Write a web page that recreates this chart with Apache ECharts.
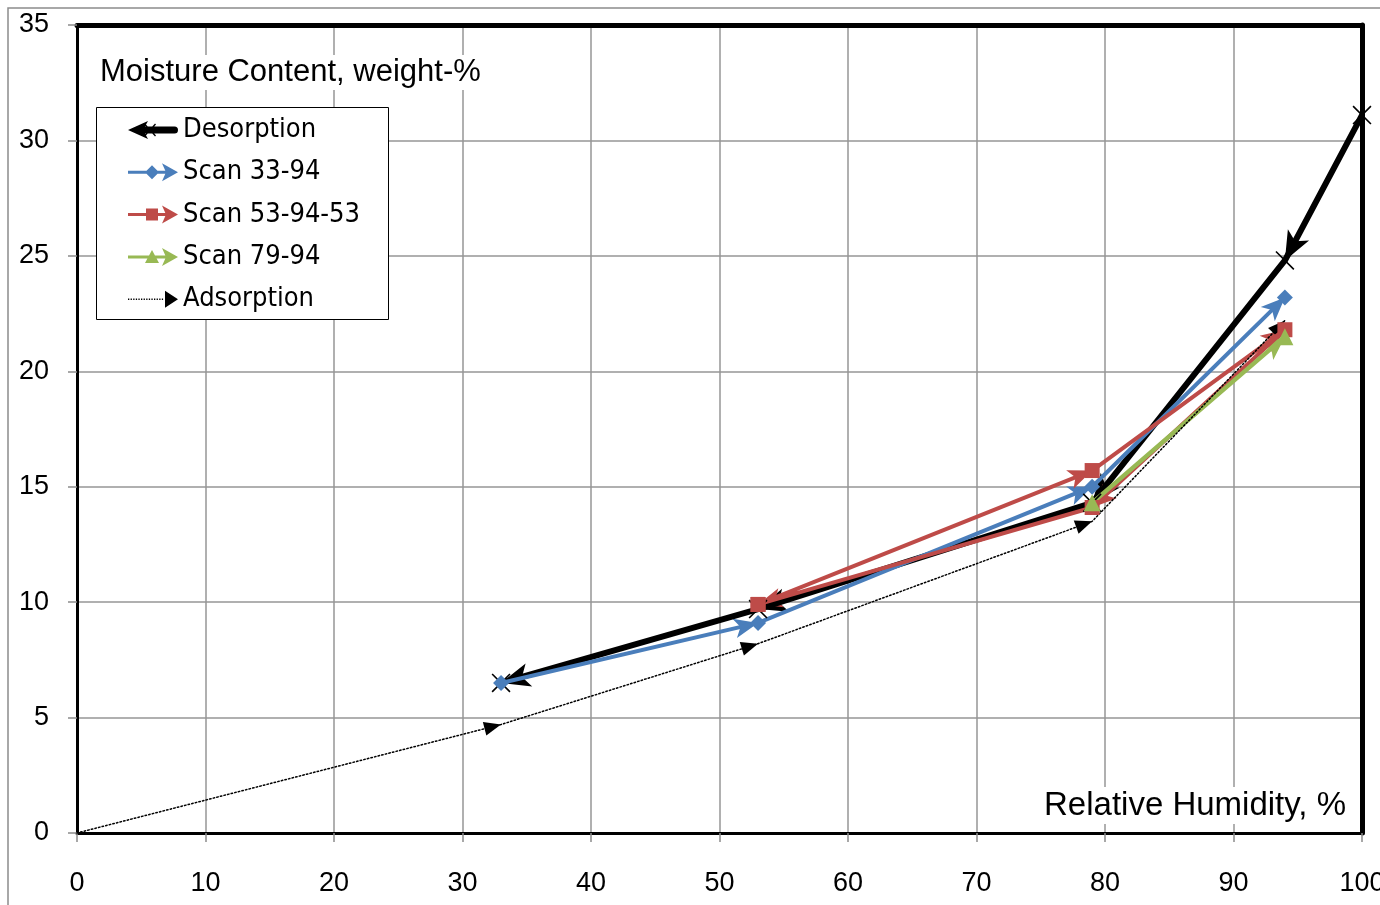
<!DOCTYPE html>
<html>
<head>
<meta charset="utf-8">
<script src="https://cdn.jsdelivr.net/npm/echarts@6/dist/echarts.min.js"></script>
<style>
  html, body { margin: 0; padding: 0; background: #fff; }
  #chart { width: 1380px; height: 905px; }
</style>
</head>
<body>
<div id="chart"></div>
<script>
// Sorption curves: relative humidity (%) against moisture content (weight-%)
const desorptionRH = [100, 94, 79, 53, 33];
const desorptionMC = [31.1, 24.8, 14.3, 9.7, 6.5];

const scan3394RH = [33, 53, 79, 94];
const scan3394MC = [6.5, 9.1, 15.0, 23.2];

const scan539453RH = [53, 79, 94, 79, 53];
const scan539453MC = [9.9, 15.7, 21.8, 14.1, 9.9];

const scan7994RH = [79, 94];
const scan7994MC = [14.3, 21.5];

const adsorptionRH = [0, 33, 53, 79, 94];
const adsorptionMC = [0, 4.7, 8.2, 13.5, 22.2];

const seriesNames = ['Desorption', 'Scan 33-94', 'Scan 53-94-53', 'Scan 79-94', 'Adsorption'];

const xRange = { min: 0, max: 100, interval: 10 };
const yRange = { min: 0, max: 35, interval: 5 };

const axisTitleX = 'Relative Humidity, %';
const axisTitleY = 'Moisture Content, weight-%';

const FONT = "'Liberation Sans', Arial, sans-serif";
const NARROW = "'Liberation Sans Narrow', 'Arial Narrow', 'DejaVu Sans Condensed', sans-serif";

// Arrowheads: the empty move at the top keeps the symbol anchor on the tip
const ARROW_HEAD = 'path://M10,0L10,0M10,20L20,40L10,35L0,40Z';
const TRI_HEAD = 'path://M10,0L10,0M10,20L20,40L0,40Z';
const X_MARK = 'path://M0,1.2L1.2,0L20,18.8L18.8,20Z M18.8,0L20,1.2L1.2,20L0,18.8Z';

// Legend icons (50 x 22 box): line, marker and arrowhead
const LINE_BAR = 'M0,9.5L40,9.5L40,12.5L0,12.5Z';
const RIGHT_ARROW = 'M34,2L50,11L34,20L38,11Z';
function dottedBar() {
  let p = '';
  for (let x = 0; x < 36; x += 2.6) {
    p += 'M' + x + ',10.3L' + (x + 1.3) + ',10.3L' + (x + 1.3) + ',11.7L' + x + ',11.7Z';
  }
  return p;
}
const legendIcons = [
  'path://M0,11L20,2L15,11L20,20Z M14,7.5L46.5,7.5A3.5,3.5 0 0 1 46.5,14.5L14,14.5Z' +
    'M16,5.6L17,4.6L28,16.4L27,17.4Z M27,4.6L28,5.6L17,17.4L16,16.4Z',
  'path://' + LINE_BAR + 'M24,4L31,11L24,18L17,11Z' + RIGHT_ARROW,
  'path://' + LINE_BAR + 'M18,5L30,5L30,17L18,17Z' + RIGHT_ARROW,
  'path://' + LINE_BAR + 'M24,4L31,17L17,17Z' + RIGHT_ARROW,
  'path://' + dottedBar() + 'M37,2.5L50,11L37,19.5Z'
];

const curves = [
  { name: seriesNames[0], rh: desorptionRH, mc: desorptionMC, color: '#000000', width: 6,
    symbol: X_MARK, symbolSize: 19, head: ARROW_HEAD, headSize: [24, 58] },
  { name: seriesNames[1], rh: scan3394RH, mc: scan3394MC, color: '#4a7ebb', width: 4,
    symbol: 'diamond', symbolSize: 16, head: ARROW_HEAD, headSize: [20, 48] },
  { name: seriesNames[2], rh: scan539453RH, mc: scan539453MC, color: '#be4b48', width: 4,
    symbol: 'rect', symbolSize: 15, head: ARROW_HEAD, headSize: [20, 48] },
  { name: seriesNames[3], rh: scan7994RH, mc: scan7994MC, color: '#98b954', width: 4.5,
    symbol: 'triangle', symbolSize: 17, head: ARROW_HEAD, headSize: [20, 48] },
  { name: seriesNames[4], rh: adsorptionRH, mc: adsorptionMC, color: '#000000', width: 1.5,
    dash: [1.5, 2.2], symbol: 'none', symbolSize: 0, head: TRI_HEAD, headSize: [14, 34] }
];

function points(rh, mc) { return rh.map((x, i) => [x, mc[i]]); }
function segments(rh, mc) {
  const s = [];
  for (let i = 1; i < rh.length; i++) {
    s.push({ coords: [[rh[i - 1], mc[i - 1]], [rh[i], mc[i]]] });
  }
  return s;
}

const series = [];
curves.forEach(c => {
  series.push({
    type: 'line', name: c.name, data: points(c.rh, c.mc),
    symbol: c.symbol, symbolSize: c.symbolSize, showSymbol: c.symbol !== 'none',
    lineStyle: { color: c.color, width: c.width, type: c.dash || 'solid', join: 'round', cap: 'round' },
    itemStyle: { color: c.color, borderWidth: 0 },
    emphasis: { disabled: true }, silent: true, clip: false, animation: false
  });
  // arrowheads at the end of every segment
  series.push({
    type: 'lines', name: c.name, coordinateSystem: 'cartesian2d',
    data: segments(c.rh, c.mc),
    symbol: ['none', c.head], symbolSize: [0, c.headSize],
    lineStyle: { color: c.color, width: 0, opacity: 1, curveness: 0 },
    silent: true, animation: false
  });
});

const chart = echarts.init(document.getElementById('chart'), null, { renderer: 'canvas' });

chart.setOption({
  animation: false,
  backgroundColor: '#ffffff',
  grid: { left: 77, right: 18, top: 25, bottom: 72, containLabel: false, outerBoundsMode: 'none' },
  title: [
    { text: axisTitleY, left: 96, top: 55, padding: [2, 4], backgroundColor: '#ffffff',
      textStyle: { fontFamily: FONT, fontSize: 31, fontWeight: 'normal', color: '#000' } },
    { text: axisTitleX, right: 30, top: 787, padding: [2, 4], backgroundColor: '#ffffff',
      textStyle: { fontFamily: FONT, fontSize: 33, fontWeight: 'normal', color: '#000' } }
  ],
  legend: {
    orient: 'vertical', left: 128, top: 116, padding: 0, itemGap: 14.3,
    itemWidth: 50, itemHeight: 22, selectedMode: false,
    data: seriesNames.map((n, i) => ({ name: n, icon: legendIcons[i] })),
    itemStyle: { borderWidth: 0 },
    textStyle: { fontFamily: NARROW, fontSize: 27, lineHeight: 28, color: '#000' }
  },
  xAxis: [
    { type: 'value', position: 'bottom', min: xRange.min, max: xRange.max, interval: xRange.interval,
      axisLine: { show: true, onZero: false, lineStyle: { color: '#000', width: 3 } },
      axisTick: { show: true, length: 9, lineStyle: { color: '#8c8c8c', width: 1.5 } },
      axisLabel: { margin: 37, fontFamily: FONT, fontSize: 27, color: '#000' },
      splitLine: { show: true, lineStyle: { color: '#969696', width: 1.5 } } },
    { type: 'value', position: 'top', min: xRange.min, max: xRange.max, interval: xRange.interval,
      axisLine: { show: true, onZero: false, lineStyle: { color: '#000', width: 5 } },
      axisTick: { show: false }, axisLabel: { show: false }, splitLine: { show: false } }
  ],
  yAxis: [
    { type: 'value', position: 'left', min: yRange.min, max: yRange.max, interval: yRange.interval,
      axisLine: { show: true, onZero: false, lineStyle: { color: '#000', width: 3 } },
      axisTick: { show: true, length: 9, lineStyle: { color: '#8c8c8c', width: 1.5 } },
      axisLabel: { margin: 28, fontFamily: FONT, fontSize: 27, color: '#000' },
      splitLine: { show: true, lineStyle: { color: '#969696', width: 1.5 } } },
    { type: 'value', position: 'right', min: yRange.min, max: yRange.max, interval: yRange.interval,
      axisLine: { show: true, onZero: false, lineStyle: { color: '#000', width: 5 } },
      axisTick: { show: false }, axisLabel: { show: false }, splitLine: { show: false } }
  ],
  graphic: [
    { type: 'rect', silent: true, z: 0,
      shape: { x: 8, y: 8, width: 1500, height: 1100 },
      style: { fill: 'none', stroke: '#8c8c8c', lineWidth: 1.5 } },
    { type: 'rect', silent: true, z: 3,
      shape: { x: 96.5, y: 107.5, width: 292, height: 212 },
      style: { fill: '#ffffff', stroke: '#000000', lineWidth: 1 } }
  ],
  series: series
});
</script>
</body>
</html>
